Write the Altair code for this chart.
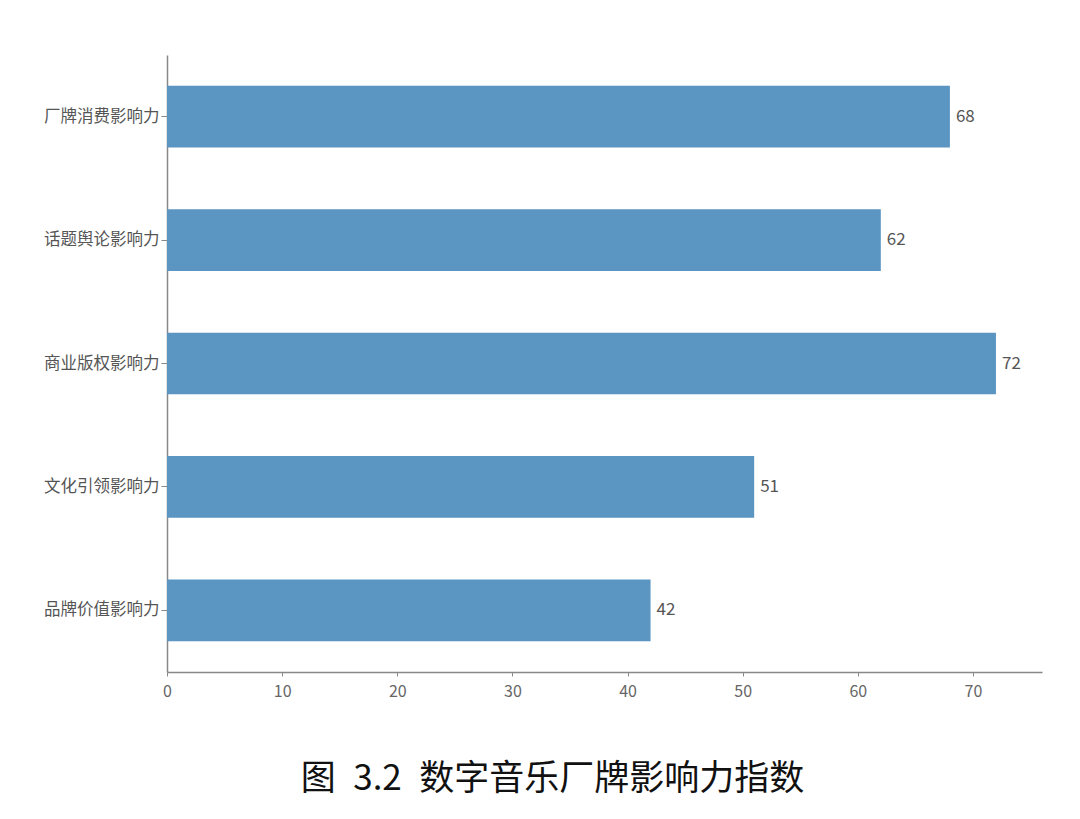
import altair as alt
import pandas as pd

categories = ["厂牌消费影响力", "话题舆论影响力", "商业版权影响力", "文化引领影响力", "品牌价值影响力"]
values = [68, 62, 72, 51, 42]

source = pd.DataFrame({"category": categories, "value": values})

font = "Noto Sans CJK SC"

base = alt.Chart(source).encode(
    alt.Y("category:N", sort=categories, title=None,
          scale=alt.Scale(paddingInner=0.5, paddingOuter=0.25),
          axis=alt.Axis(labelFontSize=16.5, labelColor="#555555", labelFont=font,
                        domainColor="#888888", domainWidth=1.5, tickColor="#888888",
                        tickSize=6, labelPadding=2)),
    alt.X("value:Q", title=None,
          scale=alt.Scale(domain=[0, 76], nice=False),
          axis=alt.Axis(values=[0, 10, 20, 30, 40, 50, 60, 70], grid=False,
                        labelFlush=False,
                        labelFontSize=16, labelColor="#666666", labelFont=font,
                        domainColor="#888888", domainWidth=1.5, tickColor="#888888",
                        tickSize=4, labelPadding=7)),
)

bars = base.mark_bar(color="#5b95c2")

labels = base.mark_text(align="left", dx=6, fontSize=17, color="#555555", font=font).encode(
    text="value:Q"
)

chart = (bars + labels).properties(
    width=875,
    height=617,
    padding={"left": 35, "top": 47, "right": 10, "bottom": 5},
    title=alt.TitleParams(
        "图\u20023.2\u2002数字音乐厂牌影响力指数",
        orient="bottom",
        fontSize=35,
        fontWeight="normal",
        font=font,
        color="#111111",
        offset=63,
        anchor="middle",
        dx=-52,
    ),
).configure_view(stroke=None)

chart.save("out.html", embed_options={"renderer": "svg", "actions": False})
